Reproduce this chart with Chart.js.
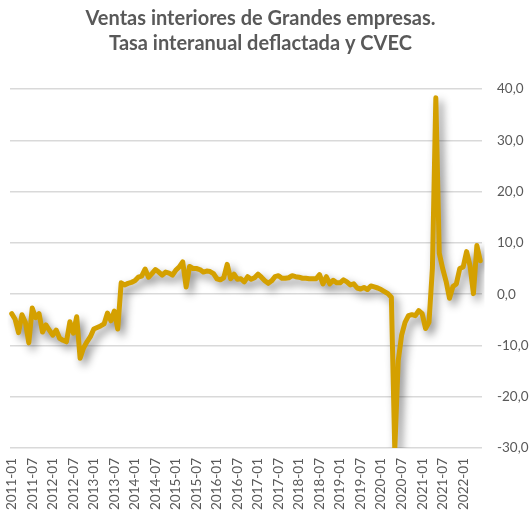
<!DOCTYPE html>
<html>
<head>
<meta charset="utf-8">
<script src="https://cdn.jsdelivr.net/npm/chart.js@4.4.0/dist/chart.umd.min.js"></script>
<style>
  html, body { margin: 0; padding: 0; background: #fff; }
  #chart { display: block; }
</style>
</head>
<body>
<canvas id="chart" width="529" height="515"></canvas>
<script>
// title lines
const titleLines = [
    "Ventas interiores de Grandes empresas.",
    "Tasa interanual deflactada y CVEC"
];

// monthly categories 2011-01 .. 2022-06
const years = [2011, 2012, 2013, 2014, 2015, 2016, 2017, 2018, 2019, 2020, 2021, 2022];
const months = ["01", "02", "03", "04", "05", "06", "07", "08", "09", "10", "11", "12"];
const lastYearMonths = 6;

// y ticks shown on the right
const yTicks = [-30, -20, -10, 0, 10, 20, 30, 40];

// year-on-year rate
const tasa = [
    -3.8, -4.9, -7.5, -4.0, -5.5, -9.5, -2.7, -4.6, -3.8, -7.4, -6.0, -7.0,
    -8.0, -7.0, -8.6, -9.0, -9.3, -5.4, -7.6, -4.4, -12.5, -10.5, -9.3, -8.3,
    -6.8, -6.5, -6.2, -5.8, -3.7, -5.2, -3.3, -6.8, 2.2, 1.8, 2.1, 2.3,
    2.6, 3.3, 3.5, 4.9, 3.3, 4.0, 4.8, 4.3, 3.7, 4.3, 4.1, 3.7,
    4.7, 5.3, 6.3, 1.4, 5.4, 5.0, 5.0, 4.8, 4.3, 4.5, 4.4, 4.0,
    3.0, 2.8, 3.2, 5.8, 3.0, 3.9, 2.9, 3.0, 2.4, 3.4, 2.9, 3.2,
    3.9, 3.3, 2.6, 2.1, 2.6, 3.4, 3.6, 3.1, 3.1, 3.2, 3.6, 3.4,
    3.3, 3.1, 3.1, 3.0, 3.0, 3.0, 3.8, 2.0, 3.4, 2.0, 2.7, 2.2,
    2.2, 2.8, 2.4, 1.8, 2.0, 1.2, 1.0, 1.3, 0.9, 1.6, 1.4, 1.2,
    0.9, 0.5, 0.1, -0.6, -30.3, -13.0, -8.0, -5.5, -4.2, -4.0, -4.2, -3.2,
    -3.8, -6.7, -5.5, 5.0, 38.3, 8.0, 5.0, 2.5, -0.8, 1.5, 2.0, 5.0,
    5.3, 8.3, 5.5, 0.1, 9.5, 6.5
];

let categories = [];
years.forEach(function (y, yi) {
    let n = yi === years.length - 1 ? lastYearMonths : 12;
    for (let m = 0; m < n; m++) categories.push(y + "-" + months[m]);
});

const fontFamily = "Lato, 'Open Sans', sans-serif";
const textColor = "#595959";

// soft grey shadow under the line, like the spreadsheet's
const lineShadow = {
    id: "lineShadow",
    beforeDatasetsDraw(chart) {
        let ctx = chart.ctx;
        ctx.save();
        ctx.shadowColor = "rgba(0,0,0,0.45)";
        ctx.shadowBlur = 9;
        ctx.shadowOffsetX = 4;
        ctx.shadowOffsetY = 5;
    },
    afterDatasetsDraw(chart) {
        chart.ctx.restore();
    }
};

// two-line title, centred a bit left of the canvas centre
const twoLineTitle = {
    id: "twoLineTitle",
    afterDraw(chart) {
        let ctx = chart.ctx;
        ctx.save();
        ctx.font = "bold 20px " + fontFamily;
        ctx.fillStyle = textColor;
        ctx.textAlign = "center";
        ctx.textBaseline = "alphabetic";
        ctx.fillText(titleLines[0], 260.5, 25);
        ctx.fillText(titleLines[1], 260.5, 50);
        ctx.restore();
    }
};

new Chart(document.getElementById("chart"), {
    type: "line",
    data: {
        labels: categories,
        datasets: [
            {
                label: "Tasa interanual",
                data: tasa,
                borderColor: "#D4A000",
                borderWidth: 5,
                borderJoinStyle: "round",
                borderCapStyle: "round",
                pointRadius: 0,
                tension: 0,
                fill: false,
            },
        ],
    },
    options: {
        responsive: false,
        animation: false,
        layout: { padding: { top: 89, left: 10, right: 0, bottom: 0 } },
        plugins: {
            legend: { display: false },
            title: { display: false },
            tooltip: { enabled: false },
        },
        scales: {
            x: {
                offset: true,
                grid: { display: false, drawTicks: false },
                border: { display: false },
                ticks: {
                    autoSkip: false,
                    minRotation: 90,
                    maxRotation: 90,
                    padding: 10,
                    color: textColor,
                    font: { family: fontFamily, size: 13.5 },
                    callback: function (value, index) {
                        return index % 6 === 0 ? this.getLabelForValue(value) : "";
                    },
                },
                afterFit: function (scale) {
                    scale.height = 67;
                    scale.paddingLeft = 0;
                    scale.paddingRight = 0;
                },
            },
            y: {
                position: "right",
                min: yTicks[0],
                max: yTicks[yTicks.length - 1],
                afterBuildTicks: function (scale) {
                    scale.ticks = yTicks.map(function (v) { return { value: v }; });
                },
                grid: { color: "#d9d9d9", lineWidth: 1.5, drawTicks: false },
                border: { display: false },
                ticks: {
                    padding: 15,
                    color: textColor,
                    font: { family: fontFamily, size: 13.5 },
                    callback: function (value) {
                        return value.toFixed(1).replace(".", ",");
                    },
                },
                afterFit: function (scale) {
                    scale.width = 47;
                },
            },
        },
    },
    plugins: [lineShadow, twoLineTitle],
});
</script>
</body>
</html>
